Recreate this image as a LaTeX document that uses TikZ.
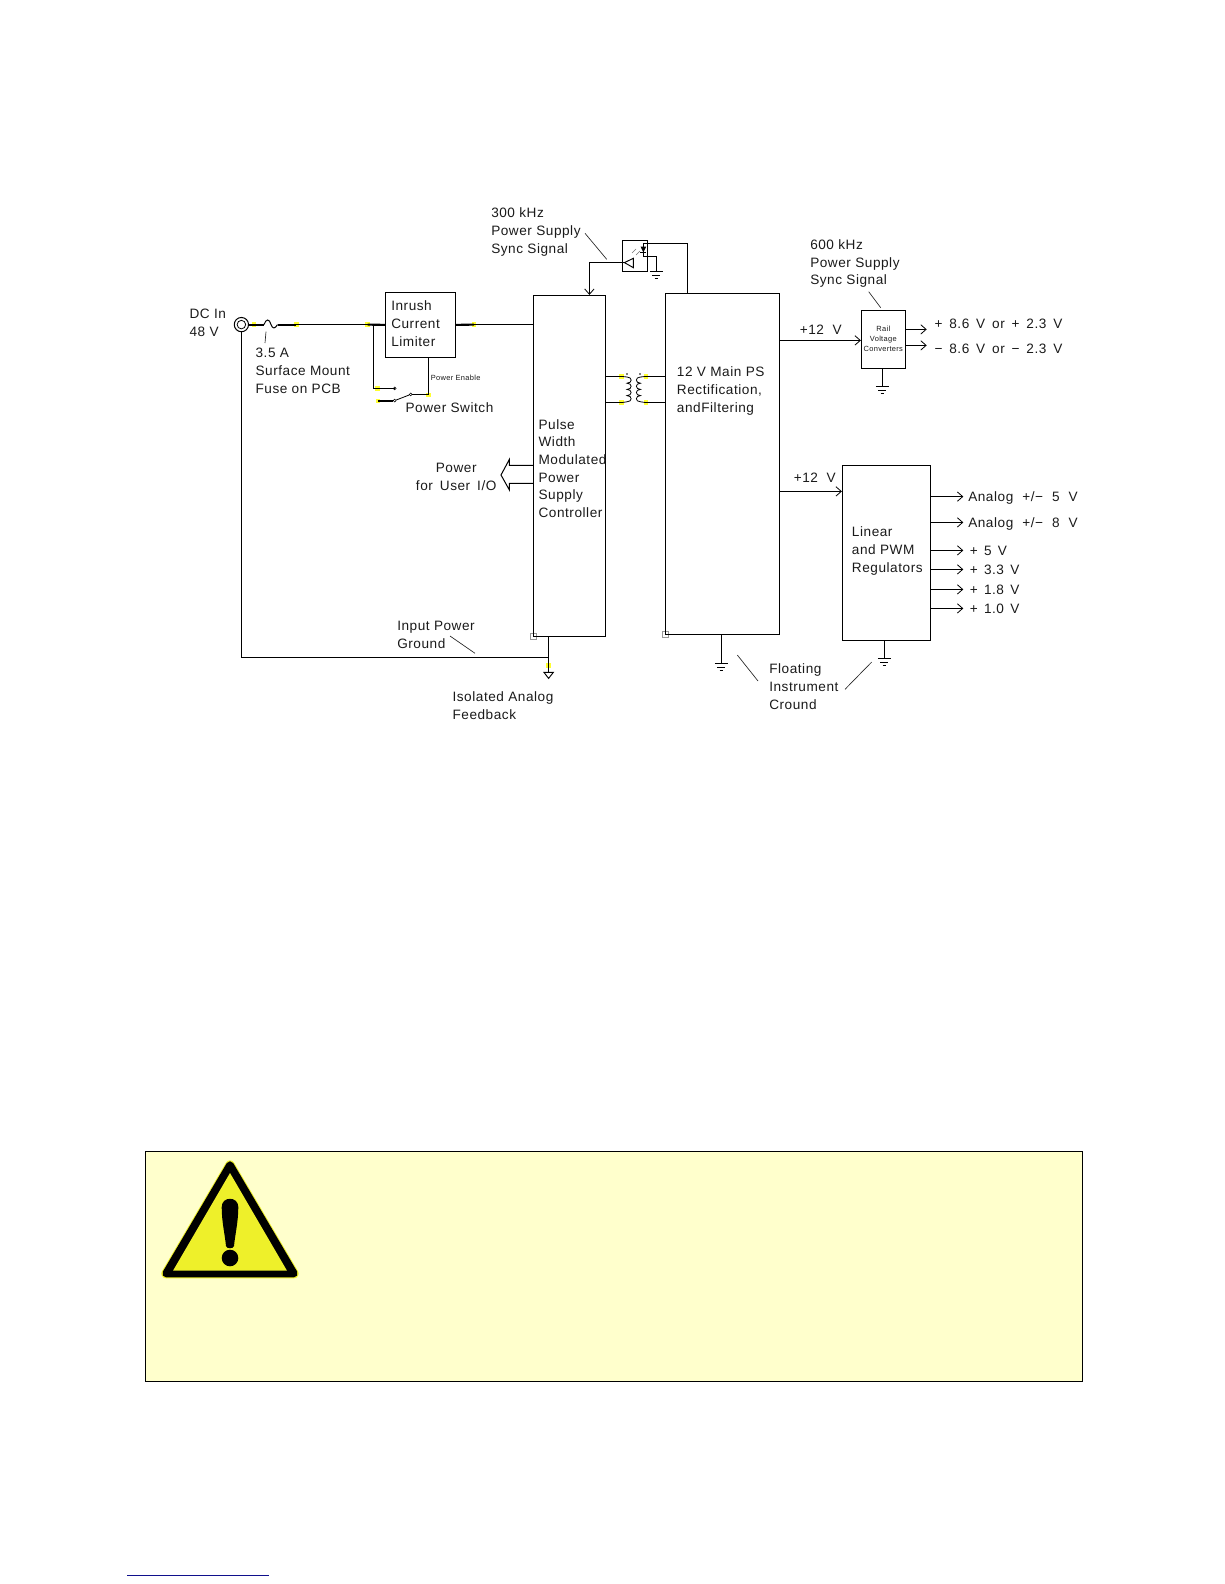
\documentclass[tikz,border=0pt]{standalone}
\usepackage{fontspec}
\setmainfont[LetterSpace=4]{Liberation Sans}
\usetikzlibrary{arrows.meta,calc}
\definecolor{panelfill}{HTML}{FFFFCC}
\definecolor{warnyellow}{HTML}{EEF02A}
\definecolor{dotyellow}{HTML}{FFFF30}
\definecolor{footblue}{HTML}{10108C}
\definecolor{inkgray}{HTML}{1A1A1A}
\tikzset{
  wire/.style={line width=.75pt,black,line join=miter},
  thickwire/.style={line width=1.6pt,black},
  leader/.style={line width=.5pt,black!85},
  feed/.style={wire,-{Straight Barb[length=4pt,width=7pt,line width=.6pt]}},
  blockbox/.style={draw=black,line width=.75pt,inner sep=0pt,fill=none},
  lbl/.style={anchor=west,align=left,inner sep=0pt,text=inkgray,font=\fontsize{10.2}{13.3}\selectfont},
  smalllbl/.style={anchor=center,align=center,inner sep=0pt,text=inkgray,font=\fontsize{5.6}{7.6}\selectfont},
  ydot/.style={fill=dotyellow},
  corner/.style={draw=black!40,line width=.5pt},
}
\newcommand{\blockat}[6]{%
  \node[blockbox,minimum width={(#4-#2)*.75pt},minimum height={(#5-#3)*.75pt}] (#1) at ({(#2+#4)/2},{(#3+#5)/2}) {#6};}
\newcommand{\gndsym}[1]{%
  \draw[wire] ($(#1)+(-6.5,0)$) -- ($(#1)+(6.5,0)$);
  \draw[wire,line width=.6pt] ($(#1)+(-4,3.5)$) -- ($(#1)+(4,3.5)$);
  \draw[wire,line width=.6pt] ($(#1)+(-1.8,7)$) -- ($(#1)+(1.8,7)$);}
\newcommand{\xs}[1]{\hspace{#1pt}}
\begin{document}
\begin{tikzpicture}[x=.75pt,y=-.75pt]
\useasboundingbox (0,0) rectangle (1224,1584);
% yellow connection marks
\foreach \p in {(254,324.6),(296.3,324.6),(367.7,324.6),(474,324.6),(377.7,388.4),(378,401),(428.4,395),(621.7,376.4),(621.7,402.6),(646,376.4),(646,402.6),(548.5,665.6)}
  \fill[ydot] \p +(-2.3,-2.3) rectangle +(2.3,2.3);
% corner marks
\draw[corner] (530.3,633.3) rectangle (536.3,639.3);
\draw[corner] (662.3,631.3) rectangle (668.3,637.3);
% blocks
\blockat{inrush}{385.4}{292.4}{455.6}{357.4}{}
\blockat{pwm}{533.4}{295.4}{605.6}{636.4}{}
\blockat{mainps}{665.4}{293.4}{779.4}{634.4}{}
\blockat{rail}{861.4}{310.4}{905.4}{368.4}{}
\blockat{linear}{842.4}{465.4}{930.4}{640.4}{}
\blockat{opto}{622.4}{240.4}{647.4}{271.4}{}
\node[circle,draw=black,line width=.75pt,minimum size=10.7pt,inner sep=0pt] (dcin) at (241.4,324.6) {};
\node[circle,draw=black,line width=.6pt,minimum size=6.4pt,inner sep=0pt] (dcinner) at (241.4,324.6) {};
% labels
\node[lbl] (tdc) at (189.3,322.5) {DC In\\48 V};
\node[lbl] (tfuse) at (255.3,370.7) {3.5 A\\Surface Mount\\Fuse on PCB};
\node[lbl] (tinrush) at (391,323.7) {Inrush\\Current\\Limiter};
\node[lbl] (tswitch) at (405.3,407.7) {Power Switch};
\node[smalllbl,anchor=west] (tenable) at (430.7,378) {Power Enable};
\node[lbl] (t300) at (491,232.2) {300 kHz\\Power Supply\\Sync Signal};
\node[lbl] (tpwm) at (538.3,468.5) {Pulse\\Width\\Modulated\\Power\\Supply\\Controller};
\node[lbl,align=center,anchor=center] (tuser) at (456.2,476.7) {Power\\for\xs{2} User\xs{2} I/O};
\node[lbl] (tgnd) at (397,634.6) {Input Power\\Ground};
\node[lbl] (tiso) at (452.3,705.5) {Isolated Analog\\Feedback};
\node[lbl] (tmain) at (676.7,391) {12 V Main PS\\Rectification,\\andFiltering};
\node[lbl] (t12a) at (799.5,330) {+12\xs{3.2} V};
\node[lbl] (t12b) at (793.5,477.7) {+12\xs{3.2} V};
\node[lbl] (t600) at (810,263.7) {600 kHz\\Power Supply\\Sync Signal};
\node[smalllbl] (trail) at (883.3,338.7) {Rail\\Voltage\\Converters};
\node[lbl] (tp86) at (934.3,323.8) {+\xs{1.9} 8.6\xs{1.9} V\xs{1.9} or\xs{1.9} +\xs{1.9} 2.3\xs{1.9} V};
\node[lbl] (tm86) at (934.3,348.8) {\char"2212\xs{1.9} 8.6\xs{1.9} V\xs{1.9} or\xs{1.9} \char"2212\xs{1.9} 2.3\xs{1.9} V};
\node[lbl] (tlinear) at (851.7,551) {Linear\\and PWM\\Regulators};
\node[lbl] (ta5) at (968,498) {Analog\xs{3.5} +/\char"2212\xs{3.5} 5\xs{3.5} V};
\node[lbl] (ta8) at (968,524) {Analog\xs{3.5} +/\char"2212\xs{3.5} 8\xs{3.5} V};
\node[lbl] (tv5) at (969.5,550.5) {+\xs{1.5} 5\xs{1.5} V};
\node[lbl] (tv33) at (969.5,570) {+\xs{1.5} 3.3\xs{1.5} V};
\node[lbl] (tv18) at (969.5,589.5) {+\xs{1.5} 1.8\xs{1.5} V};
\node[lbl] (tv10) at (969.5,609) {+\xs{1.5} 1.0\xs{1.5} V};
\node[lbl] (tfloat) at (769,686.7) {Floating\\Instrument\\Cround};
% named points
\coordinate (fa) at (264,324.6);
\coordinate (fb) at (277.5,324.6);
\coordinate (fc) at (296.3,324.6);
\coordinate (j1) at (367.7,324.6);
\coordinate (j2) at (373.4,324.6);
\coordinate (in1) at (474,324.6);
\coordinate (sw1) at (394.7,388.4);
\coordinate (sw2) at (394.7,400.6);
\coordinate (sw3) at (410.7,394.4);
\coordinate (sw4) at (428.4,394.4);
\coordinate (sw2s) at (378,400.6);
\coordinate (gj) at (548.4,657.4);
\coordinate (gk) at (548.4,672.4);
% input bus
\draw[thickwire] (dcin.east) -- (fa);
\draw[wire] (fa) .. controls (266,318.5) and (269.5,318.5) .. (271,324.6) .. controls (272.5,329) and (275,329) .. (fb);
\draw[thickwire] (fb) -- (fc);
\draw[wire] (fc) -- (j1);
\draw[thickwire] (j1) -- (inrush.west);
\draw[thickwire] (inrush.east) -- (in1);
\draw[wire] (in1) -- (in1 -| pwm.west);
\draw[leader] (266,331.7) -- (265,343);
% return
\draw[wire] (dcin.south) |- (gj);
\draw[wire] (pwm.south -| gj) -- (gj) -- (gk);
\draw[thickwire,line width=1.3pt] (548.4,665) -- (gk);
\draw[wire,line width=.7pt] (544,672.4) -- (553.3,672.4) -- (548.6,678.4) -- cycle;
% switch
\draw[wire] (j2) |- (sw1);
\node[circle,draw=black,line width=.4pt,minimum size=2.2pt,inner sep=0pt] (s1) at (sw1) {};
\node[circle,draw=black,line width=.4pt,minimum size=2.2pt,inner sep=0pt] (s2) at (sw2) {};
\node[circle,draw=black,line width=.4pt,minimum size=2.2pt,inner sep=0pt] (s3) at (sw3) {};
\draw[thickwire] (sw2s) -- (s2);
\draw[wire,line width=.6pt] (s2) -- (s3);
\draw[wire] (s3) -- (sw4) -- (sw4 |- inrush.south);
% sync signal
\coordinate (oa) at (589.4,262.6);
\coordinate (ob) at (624.4,262.6);
\draw[feed] (ob) -- (oa) -- (oa |- pwm.north);
\draw[wire,line width=.7pt] (ob) -- (633.4,258.3) -- (633.4,267.7) -- cycle;
\coordinate (da) at (643.4,243.4);
\coordinate (db) at (643.4,256.4);
\coordinate (dr) at (687.4,243.4);
\coordinate (dg) at (656.4,271.6);
\draw[wire] (db) -- (da) -- (dr) -- (dr |- mainps.north);
\fill[black] (640.6,246.7) -- (646.2,246.7) -- (643.4,252.4) -- cycle;
\draw[wire] (640.2,252.4) -- (646.4,252.4);
\draw[wire] (db) -| (dg);
\gndsym{dg}
\draw[black!55,line width=.5pt] (636,255) -- (640,251);
\draw[black!55,line width=.5pt] (632,253) -- (636,249);
% transformer
\draw[wire] (pwm.east |- 621.7,376.4) -- (621.7,376.4);
\draw[wire] (pwm.east |- 621.7,402.6) -- (621.7,402.6);
\draw[wire] (mainps.west |- 646,376.4) -- (646,376.4);
\draw[wire] (mainps.west |- 646,402.6) -- (646,402.6);
\draw[wire,line width=.6pt] (621.7,376.4) -- (627,377)
  .. controls (632.5,377) and (632.5,383.2) .. (627,383.2)
  .. controls (632.5,383.2) and (632.5,389.4) .. (627,389.4)
  .. controls (632.5,389.4) and (632.5,395.6) .. (627,395.6)
  .. controls (632.5,395.6) and (632.5,401.8) .. (627,401.8) -- (621.7,402.6);
\draw[wire,line width=.6pt] (646,376.4) -- (640.5,377)
  .. controls (635,377) and (635,383.2) .. (640.5,383.2)
  .. controls (635,383.2) and (635,389.4) .. (640.5,389.4)
  .. controls (635,389.4) and (635,395.6) .. (640.5,395.6)
  .. controls (635,395.6) and (635,401.8) .. (640.5,401.8) -- (646,402.6);
\fill[black] (627,374) circle (.8);
\fill[black] (640,374) circle (.8);
% user I/O hollow arrow
\coordinate (ua) at (509.4,465.4);
\coordinate (ub) at (509.4,483.4);
\draw[wire] (ua -| pwm.west) -- (ua) -- (509.4,459.3) -- (501,475) -- (509.4,490) -- (ub) -- (ub -| pwm.west);
% 12 V feeds
\coordinate (r12) at (779.4,340.4);
\coordinate (l12) at (779.4,491.4);
\draw[feed] (r12) -- (r12 -| rail.west);
\draw[feed] (l12) -- (l12 -| linear.west);
% rail outputs
\coordinate (ro1) at (926.7,329.4);
\coordinate (ro2) at (926.7,345.4);
\draw[feed] (ro1 -| rail.east) -- (ro1);
\draw[feed] (ro2 -| rail.east) -- (ro2);
% linear outputs
\foreach \n/\yy in {a/496.6,b/522.4,c/550.4,d/569.4,e/589.4,f/608.4}{
  \coordinate (lo\n) at (963.3,\yy);
  \draw[feed] (lo\n -| linear.east) -- (lo\n);
}
% grounds
\coordinate (g1) at (882.4,386.6);
\draw[wire] (rail.south -| g1) -- (g1);
\gndsym{g1}
\coordinate (g2) at (721.4,663.4);
\draw[wire] (mainps.south -| g2) -- (g2);
\gndsym{g2}
\coordinate (g3) at (884.4,658.4);
\draw[wire] (linear.south -| g3) -- (g3);
\gndsym{g3}
% leaders
\draw[leader] (585,233.3) -- (606.7,259.3);
\draw[leader] (868.7,291.7) -- (880.7,307.7);
\draw[leader] (450,636) -- (475,653.3);
\draw[leader] (737.3,655) -- (758,681);
\draw[leader] (845,689.3) -- (871.7,662);
% warning panel
\draw[fill=panelfill,draw=black,line width=.7pt] (145.4,1151.4) rectangle (1082,1381);
\draw[draw=warnyellow,line width=7pt,line join=round] (230,1165) -- (294,1273.6) -- (166,1273.6) -- cycle;
\draw[fill=black,draw=black,line width=5.6pt,line join=round] (230,1165) -- (294,1273.6) -- (166,1273.6) -- cycle;
\fill[warnyellow] (230,1173) -- (287,1270.7) -- (173,1270.7) -- cycle;
\fill[black] (221.7,1207) .. controls (221.7,1196) and (238.3,1196) .. (238.3,1207)
  .. controls (238.3,1222) and (235,1235) .. (234,1246) .. controls (233.5,1249) and (226.5,1249) .. (226,1246)
  .. controls (225,1235) and (221.7,1222) .. (221.7,1207) -- cycle;
\fill[black] (230,1258) circle (8.3);
% footnote rule
\draw[footblue,line width=.8pt] (127,1575.4) -- (269,1575.4);
\end{tikzpicture}
\end{document}
